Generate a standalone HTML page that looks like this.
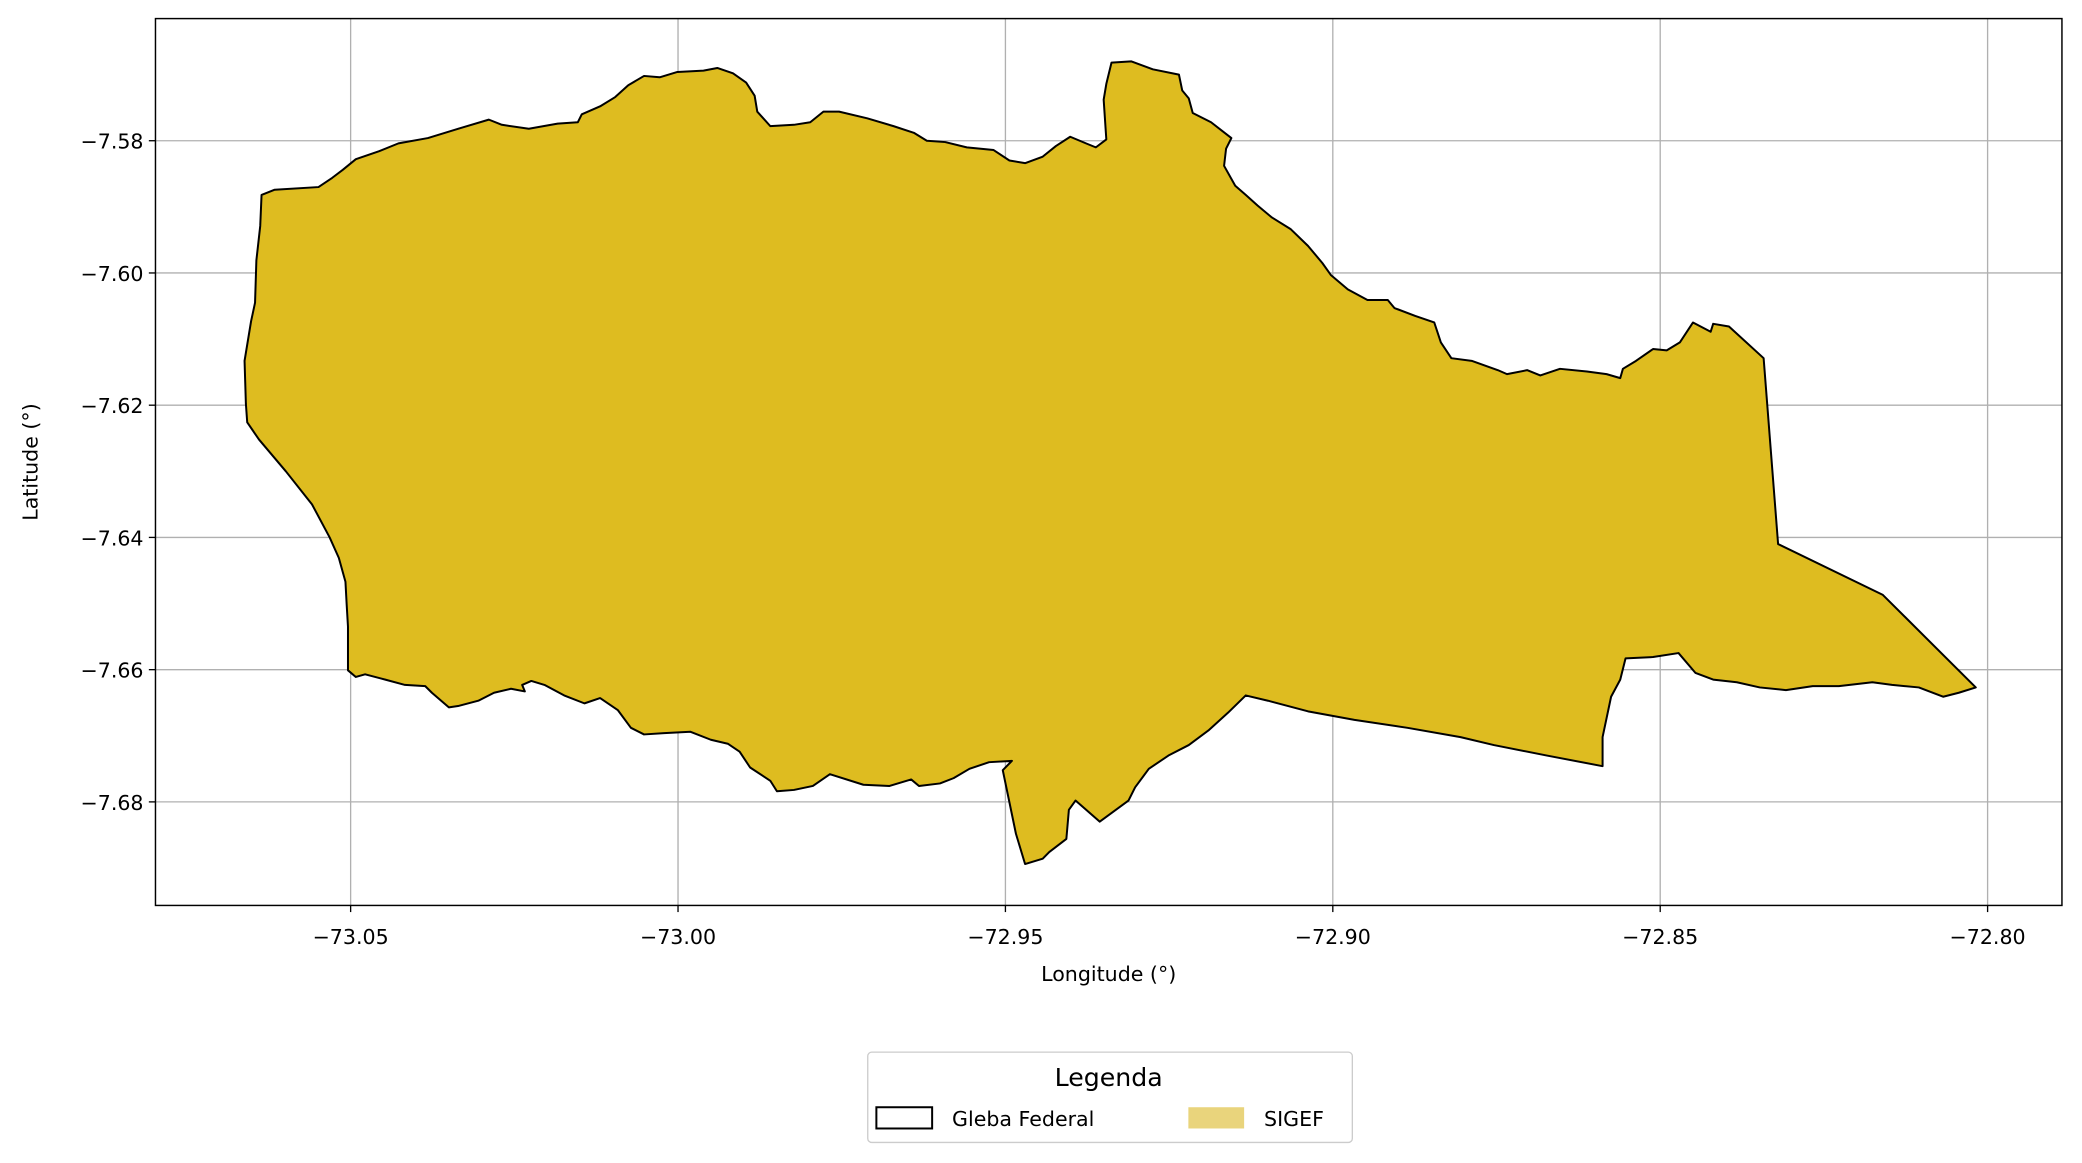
<!DOCTYPE html>
<html><head><meta charset="utf-8"><style>
html,body{margin:0;padding:0;background:#fff}
svg{display:block;font-family:"DejaVu Sans","Liberation Sans",sans-serif}
</style></head><body>
<svg id="chart" width="2082" height="1163" viewBox="0 0 1568 876" xmlns="http://www.w3.org/2000/svg">
<rect x="117" y="14" width="1436" height="668" fill="#fff"/>
<g id="grid"></g>
<g id="shape"></g>
<rect x="117" y="14" width="1436" height="668" fill="none" stroke="#000" stroke-width="1.1"/>
<g id="ticks"></g>
<text x="835" y="739" font-size="15.5" text-anchor="middle">Longitude (°)</text>
<text transform="translate(28,348) rotate(-90)" font-size="15.5" text-anchor="middle">Latitude (°)</text>
<g>
<rect x="653.5" y="792.5" width="365" height="68" rx="3" fill="#fff" stroke="#ccc" stroke-width="1"/>
<text x="835" y="818" font-size="19" text-anchor="middle">Legenda</text>
<g>
<rect x="660" y="834" width="42" height="16" fill="none" stroke="#000" stroke-width="1.5"/>
<text x="717" y="848" font-size="15.5">Gleba Federal</text>
</g>
<g>
<rect x="895" y="834" width="42" height="16" fill="#E9D47C"/>
<text x="952" y="848" font-size="15.5">SIGEF</text>
</g>
</g>
</svg>
<script>
const xTicks = [-73.05, -73.00, -72.95, -72.90, -72.85, -72.80];
const xTickLabels = ["−73.05", "−73.00", "−72.95", "−72.90", "−72.85", "−72.80"];
const yTicks = [-7.58, -7.60, -7.62, -7.64, -7.66, -7.68];
const yTickLabels = ["−7.58", "−7.60", "−7.62", "−7.64", "−7.66", "−7.68"];
const lons = [-73.0636,-73.0616,-73.0549,-73.0528,-73.0512,-73.0492,-73.0457,-73.0427,-73.0382,-73.0336,-73.0289,-73.0269,-73.0228,-73.0184,-73.0153,-73.0147,-73.0119,-73.0096,-73.0076,-73.0052,-73.0028,-73.0001,-72.9961,-72.9940,-72.9916,-72.9896,-72.9883,-72.9879,-72.9859,-72.9823,-72.9798,-72.9778,-72.9754,-72.9711,-72.9671,-72.9640,-72.9620,-72.9592,-72.9559,-72.9518,-72.9494,-72.9470,-72.9443,-72.9423,-72.9401,-72.9377,-72.9362,-72.9346,-72.9348,-72.9350,-72.9346,-72.9338,-72.9308,-72.9275,-72.9235,-72.9230,-72.9220,-72.9214,-72.9186,-72.9155,-72.9163,-72.9166,-72.9149,-72.9133,-72.9115,-72.9093,-72.9064,-72.9038,-72.9016,-72.9003,-72.8977,-72.8947,-72.8916,-72.8906,-72.8874,-72.8845,-72.8835,-72.8819,-72.8788,-72.8748,-72.8734,-72.8703,-72.8683,-72.8653,-72.8612,-72.8582,-72.8561,-72.8557,-72.8537,-72.8511,-72.8490,-72.8470,-72.8450,-72.8423,-72.8419,-72.8395,-72.8342,-72.8320,-72.8160,-72.8018,-72.8044,-72.8068,-72.8105,-72.8146,-72.8176,-72.8227,-72.8267,-72.8308,-72.8348,-72.8383,-72.8419,-72.8446,-72.8472,-72.8511,-72.8553,-72.8561,-72.8575,-72.8588,-72.8588,-72.8673,-72.8754,-72.8805,-72.8886,-72.8967,-72.9038,-72.9099,-72.9133,-72.9160,-72.9190,-72.9220,-72.9251,-72.9281,-72.9302,-72.9312,-72.9356,-72.9393,-72.9403,-72.9407,-72.9433,-72.9443,-72.9470,-72.9484,-72.9504,-72.9490,-72.9525,-72.9555,-72.9579,-72.9600,-72.9632,-72.9644,-72.9677,-72.9717,-72.9768,-72.9794,-72.9823,-72.9849,-72.9859,-72.9890,-72.9906,-72.9924,-72.9950,-72.9981,-73.0021,-73.0052,-73.0072,-73.0092,-73.0119,-73.0143,-73.0174,-73.0204,-73.0224,-73.0238,-73.0234,-73.0255,-73.0281,-73.0305,-73.0336,-73.0350,-73.0376,-73.0386,-73.0417,-73.0447,-73.0478,-73.0492,-73.0504,-73.0504,-73.0506,-73.0508,-73.0518,-73.0532,-73.0559,-73.0599,-73.0640,-73.0658,-73.0660,-73.0662,-73.0652,-73.0646,-73.0644,-73.0638];
const lats = [-7.5882,-7.5874,-7.5870,-7.5856,-7.5844,-7.5828,-7.5816,-7.5804,-7.5796,-7.5782,-7.5768,-7.5776,-7.5782,-7.5774,-7.5772,-7.5760,-7.5748,-7.5734,-7.5716,-7.5702,-7.5704,-7.5696,-7.5694,-7.5690,-7.5698,-7.5712,-7.5732,-7.5756,-7.5778,-7.5776,-7.5772,-7.5756,-7.5756,-7.5766,-7.5778,-7.5788,-7.5800,-7.5802,-7.5810,-7.5814,-7.5830,-7.5834,-7.5824,-7.5808,-7.5794,-7.5804,-7.5810,-7.5798,-7.5768,-7.5738,-7.5714,-7.5682,-7.5680,-7.5692,-7.5700,-7.5724,-7.5736,-7.5758,-7.5772,-7.5796,-7.5812,-7.5838,-7.5868,-7.5882,-7.5898,-7.5916,-7.5934,-7.5959,-7.5985,-7.6003,-7.6025,-7.6041,-7.6041,-7.6053,-7.6065,-7.6075,-7.6105,-7.6129,-7.6133,-7.6147,-7.6153,-7.6147,-7.6155,-7.6145,-7.6149,-7.6153,-7.6159,-7.6145,-7.6133,-7.6115,-7.6117,-7.6105,-7.6075,-7.6089,-7.6077,-7.6081,-7.6129,-7.6410,-7.6487,-7.6627,-7.6635,-7.6641,-7.6627,-7.6623,-7.6619,-7.6625,-7.6625,-7.6631,-7.6627,-7.6619,-7.6615,-7.6605,-7.6575,-7.6581,-7.6583,-7.6615,-7.6641,-7.6702,-7.6746,-7.6730,-7.6714,-7.6702,-7.6688,-7.6676,-7.6663,-7.6647,-7.6639,-7.6665,-7.6692,-7.6714,-7.6730,-7.6750,-7.6778,-7.6798,-7.6830,-7.6798,-7.6812,-7.6856,-7.6876,-7.6886,-7.6894,-7.6848,-7.6752,-7.6738,-7.6740,-7.6750,-7.6764,-7.6772,-7.6776,-7.6766,-7.6776,-7.6774,-7.6758,-7.6776,-7.6782,-7.6784,-7.6768,-7.6748,-7.6724,-7.6712,-7.6706,-7.6694,-7.6696,-7.6698,-7.6688,-7.6661,-7.6643,-7.6651,-7.6639,-7.6623,-7.6617,-7.6623,-7.6633,-7.6629,-7.6635,-7.6647,-7.6655,-7.6657,-7.6635,-7.6625,-7.6623,-7.6615,-7.6607,-7.6611,-7.6601,-7.6535,-7.6501,-7.6467,-7.6431,-7.6400,-7.6350,-7.6300,-7.6252,-7.6226,-7.6198,-7.6133,-7.6073,-7.6045,-7.5981,-7.5929];

const NS = "http://www.w3.org/2000/svg";
function xScale(lon){ return 264 + (lon + 73.05) * 4932; }
function yScale(lat){ return 106 + (-7.58 - lat) * 4980; }

const grid = document.getElementById('grid');
const ticks = document.getElementById('ticks');
xTicks.forEach((v,i)=>{
  const x = xScale(v);
  const gl = document.createElementNS(NS,'line');
  
  
  gl.setAttribute('x1',x);gl.setAttribute('x2',x);gl.setAttribute('y1',14);gl.setAttribute('y2',682);
  gl.setAttribute('stroke','#b0b0b0');gl.setAttribute('stroke-width','1');
  grid.appendChild(gl);
  const tk = document.createElementNS(NS,'line');
  
  
  tk.setAttribute('x1',x);tk.setAttribute('x2',x);tk.setAttribute('y1',682);tk.setAttribute('y2',687);
  tk.setAttribute('stroke','#000');
  ticks.appendChild(tk);
  const t = document.createElementNS(NS,'text');
  
  
  t.setAttribute('x',x);t.setAttribute('y',711);t.setAttribute('font-size','15.5');t.setAttribute('text-anchor','middle');
  t.textContent = xTickLabels[i];
  ticks.appendChild(t);
});
yTicks.forEach((v,i)=>{
  const y = yScale(v);
  const gl = document.createElementNS(NS,'line');
  
  
  gl.setAttribute('x1',117);gl.setAttribute('x2',1553);gl.setAttribute('y1',y);gl.setAttribute('y2',y);
  gl.setAttribute('stroke','#b0b0b0');gl.setAttribute('stroke-width','1');
  grid.appendChild(gl);
  const tk = document.createElementNS(NS,'line');
  
  
  tk.setAttribute('x1',112);tk.setAttribute('x2',117);tk.setAttribute('y1',y);tk.setAttribute('y2',y);
  tk.setAttribute('stroke','#000');
  ticks.appendChild(tk);
  const t = document.createElementNS(NS,'text');
  
  
  t.setAttribute('x',108);t.setAttribute('y',y+6);t.setAttribute('font-size','15.5');t.setAttribute('text-anchor','end');
  t.textContent = yTickLabels[i];
  ticks.appendChild(t);
});

const pts = lons.map((lon,i)=> xScale(lon).toFixed(1)+','+yScale(lats[i]).toFixed(1)).join(' ');
const poly = document.createElementNS(NS,'polygon');


poly.setAttribute('points',pts);
poly.setAttribute('fill','#DEBC20');
poly.setAttribute('stroke','#000');
poly.setAttribute('stroke-width','1.5');
poly.setAttribute('stroke-linejoin','round');
document.getElementById('shape').appendChild(poly);
</script>
</body></html>
